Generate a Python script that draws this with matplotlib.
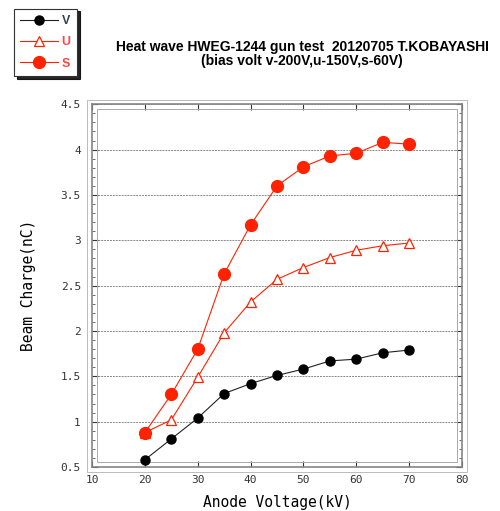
import numpy as np
import matplotlib
matplotlib.use('Agg')
import matplotlib.pyplot as plt
from matplotlib.patches import Rectangle

# Data
anode_kv = [20, 25, 30, 35, 40, 45, 50, 55, 60, 65, 70]
charge_v = [0.58, 0.81, 1.04, 1.31, 1.42, 1.51, 1.58, 1.67, 1.69, 1.76, 1.79]
charge_u = [0.88, 1.02, 1.49, 1.98, 2.32, 2.57, 2.70, 2.81, 2.89, 2.94, 2.97]
charge_s = [0.88, 1.30, 1.80, 2.63, 3.17, 3.60, 3.81, 3.93, 3.96, 4.08, 4.06]

x_ticks = [10, 20, 30, 40, 50, 60, 70, 80]
y_ticks = [0.5, 1, 1.5, 2, 2.5, 3, 3.5, 4, 4.5]

RED = '#ff2200'
MONO = 'DejaVu Sans Mono'

fig = plt.figure(figsize=(5.0, 5.11), dpi=100)
ax = fig.add_axes([0.184, 0.086, 0.740, 0.710])

ax.plot(anode_kv, charge_v, '-o', color='#222222', lw=0.8, ms=6.5,
        mfc='black', mec='black', label='V', zorder=3)
ax.plot(anode_kv, charge_u, '-^', color=RED, lw=0.8, ms=7.5,
        mfc='white', mec=RED, mew=0.9, label='U', zorder=3)
ax.plot(anode_kv, charge_s, '-o', color=RED, lw=0.8, ms=8.5,
        mfc=RED, mec=RED, label='S', zorder=4)

ax.set_xlim(10, 80)
ax.set_ylim(0.5, 4.5)
ax.set_xticks(x_ticks)
ax.set_xticklabels([str(t) for t in x_ticks], family=MONO, fontsize=8)
ax.set_yticks(y_ticks)
ax.set_yticklabels(['0.5', '1', '1.5', '2', '2.5', '3', '3.5', '4', '4.5'],
                   family=MONO, fontsize=8)
ax.set_yticks(np.arange(0.5, 4.5001, 0.1), minor=True)
ax.tick_params(axis='both', which='major', direction='in', length=4, width=0.8,
               top=True, right=True, colors='#333333')
ax.tick_params(axis='x', which='major', pad=6)
ax.tick_params(axis='y', which='major', pad=8)
ax.tick_params(axis='y', which='minor', direction='in', length=2, width=0.6,
               right=True, colors='#555555')
ax.tick_params(axis='x', which='minor', bottom=False, top=False)

ax.yaxis.grid(True, which='major', color='#888888', lw=0.7, ls=(0, (2, 1)))
ax.set_axisbelow(True)

for sp in ax.spines.values():
    sp.set_color('#858585')
    sp.set_linewidth(1.2)
# inner and outer lines of the double frame
ax.add_patch(Rectangle((0.013, 0.013), 0.974, 0.974, transform=ax.transAxes,
                       fill=False, ec='#aaaaaa', lw=0.7, zorder=1))
ax.add_patch(Rectangle((-0.014, -0.013), 1.028, 1.026, transform=ax.transAxes,
                       fill=False, ec='#bbbbbb', lw=0.7, zorder=1, clip_on=False))

ax.set_xlabel('Anode Voltage(kV)', family=MONO, fontsize=10.5, labelpad=7)
ax.set_ylabel('Beam Charge(nC)', family=MONO, fontsize=10.5, labelpad=18)

fig.text(0.604, 0.894, 'Heat wave HWEG-1244 gun test  20120705 T.KOBAYASHI\n'
         '(bias volt v-200V,u-150V,s-60V)', ha='center', va='center',
         family='Liberation Sans', weight='bold', fontsize=10, linespacing=1.05)

leg = fig.legend(loc='upper left', bbox_to_anchor=(0.028, 0.983), frameon=True,
                 fancybox=False, shadow={'color': 'black', 'alpha': 0.85},
                 handlelength=3.0, handletextpad=0.3, labelspacing=0.75,
                 borderpad=0.5, borderaxespad=0.0,
                 prop={'family': 'Liberation Sans', 'weight': 'bold', 'size': 9})
leg.get_frame().set_edgecolor('#333333')
leg.get_frame().set_linewidth(0.8)
for txt, c in zip(leg.get_texts(), ['#334455', '#ff4444', '#ff4444']):
    txt.set_color(c)

fig.savefig('out.png', dpi=100)
